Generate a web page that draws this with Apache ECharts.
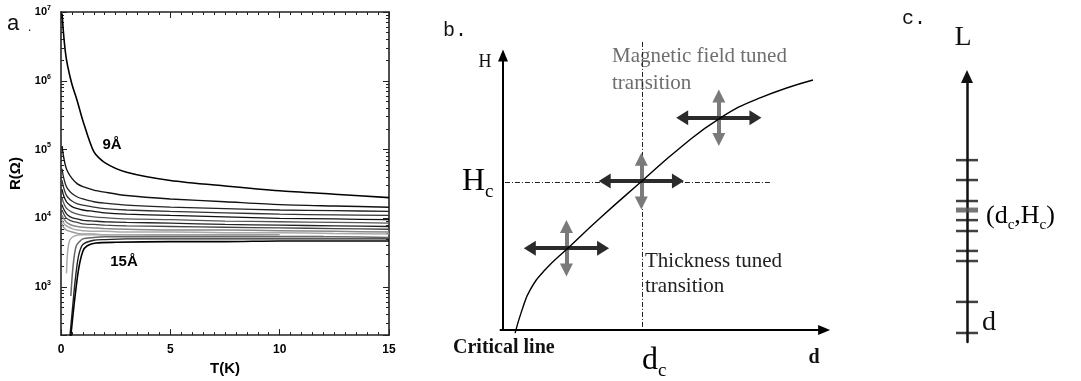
<!DOCTYPE html>
<html><head><meta charset="utf-8">
<script src="https://cdn.jsdelivr.net/npm/echarts@6/dist/echarts.min.js"></script>
<style>html,body{margin:0;padding:0;background:#fff}#c{width:1081px;height:381px}</style>
</head><body><div id="c"></div>
<script>
// ---------- Panel a: R(T) curves (T in K, R in ohm) ----------
const T_GRID = [0.05, 0.1, 0.2, 0.3, 0.5, 0.75, 1, 1.5, 2, 3, 5, 7.5, 10, 12.5, 15];
const R_9A  = [9500000, 5600000, 2630000, 1660000, 891000, 501000, 263000, 93300, 64600, 46800, 35500, 29500, 25100, 22400, 20000];
const R_C2  = [112000, 85100, 58900, 47900, 38000, 31600, 28800, 25700, 24000, 21400, 19100, 17400, 15800, 15100, 14500];
const R_C3  = [52500, 41700, 31600, 26900, 22900, 20400, 19100, 17400, 16600, 15500, 14500, 13800, 13200, 12900, 12600];
const R_C4  = [35500, 29500, 23400, 20400, 17800, 16200, 15500, 14500, 13800, 13200, 12600, 12000, 11500, 11200, 11000];
const R_C5  = [26300, 22400, 18600, 16600, 14800, 13800, 13200, 12600, 12000, 11500, 11000, 10500, 10000, 9770, 9550];
const R_C6  = [20000, 17400, 14800, 13500, 12300, 11500, 11000, 10500, 10200, 9770, 9550, 9120, 8910, 8710, 8510];
const R_C7  = [15800, 14100, 12300, 11200, 10200, 9770, 9330, 9120, 8910, 8710, 8510, 8130, 7940, 7760, 7590];
const R_C8  = [13200, 12000, 10500, 9770, 9120, 8710, 8320, 8130, 7940, 7760, 7590, 7410, 7240, 7080, 6920];
const R_C9  = [11200, 10200, 9120, 8510, 7940, 7590, 7410, 7240, 7080, 6920, 6760, 6760, 6610, 6460, 6310];
const R_C10 = [9550, 8710, 7940, 7590, 7080, 6760, 6610, 6460, 6460, 6310, 6310, 6170, 6170, 6030, 5890];
const R_C11 = [8320, 7590, 6920, 6610, 6310, 6030, 5890, 5890, 5750, 5750, 5750, 5750, 5750];

const T_L1 = [0.25, 0.3, 0.4, 0.6, 1, 1.5, 2, 3, 5, 7.5, 10, 12];
const R_L1 = [1580, 3160, 4790, 5500, 5750, 5750, 5750, 5750, 5620, 5620, 5500, 5500];
const T_L2 = [0.45, 0.55, 0.7, 1, 1.5, 2, 3, 5, 7.5, 10, 12.5, 15];
const R_L2 = [741, 2000, 3980, 5010, 5250, 5370, 5370, 5370, 5370, 5370, 5370, 5250];
const T_L3 = [0.38, 0.5, 0.65, 0.8, 1, 1.5, 2, 3, 5, 7.5, 10, 12.5, 15];
const R_L3 = [158, 398, 1260, 2820, 4170, 4790, 4900, 5010, 5010, 5010, 5010, 5010, 5010];
const T_15A = [0.42, 0.6, 0.8, 1.0, 1.2, 1.6, 2.5, 5, 7.5, 10, 12.5, 15];
const R_15A = [158, 562, 1780, 3310, 3980, 4370, 4470, 4570, 4570, 4680, 4680, 4680];

const X_TICKS_A = [0, 5, 10, 15];

// ---------- Panel b: schematic phase diagram (arbitrary units) ----------
const D_CRIT = [3.7, 5.8, 8.3, 12.8, 19.9, 29.7, 42.5, 54.1, 66.4, 78.6, 94.8];
const H_CRIT = [-1.1, 7.1, 14.3, 21.4, 29.3, 40.0, 53.2, 65.0, 75.7, 82.9, 89.3];
const D_C = 42.5;
const H_C = 52.9;
const CROSS_D = [66.0, 42.3, 19.4];
const CROSS_H = [75.8, 53.2, 29.2];

// ---------- Panel c: length-scale ticks ----------
const C_TICKS = [3.4, 15.1, 30.5, 34.3, 41.8, 45.9, 53.1, 61.0, 68.5];
const C_CRITICAL = [49.7];

const pair = (xs, ys) => ys.map((y, i) => [xs[i], y]);

const curvesA = [
  {x: T_GRID, y: R_9A,  c: '#000', w: 1.6},
  {x: T_GRID, y: R_C2,  c: '#111', w: 1.4},
  {x: T_GRID, y: R_C3,  c: '#222', w: 1.3},
  {x: T_GRID, y: R_C4,  c: '#333', w: 1.3},
  {x: T_GRID, y: R_C5,  c: '#111', w: 1.3},
  {x: T_GRID, y: R_C6,  c: '#555', w: 1.3},
  {x: T_GRID, y: R_C7,  c: '#222', w: 1.3},
  {x: T_GRID, y: R_C8,  c: '#444', w: 1.3},
  {x: T_GRID, y: R_C9,  c: '#888', w: 1.5},
  {x: T_GRID, y: R_C10, c: '#aaa', w: 1.5},
  {x: T_GRID, y: R_C11, c: '#999', w: 1.5},
  {x: T_L1,   y: R_L1,  c: '#aaa', w: 1.5},
  {x: T_L2,   y: R_L2,  c: '#666', w: 1.5},
  {x: T_L3,   y: R_L3,  c: '#222', w: 1.4},
  {x: T_15A,  y: R_15A, c: '#000', w: 1.6}
];

const SANS = 'Liberation Sans';
const SERIF = 'Liberation Serif';

const series = [];
curvesA.forEach(cv => series.push({
  type: 'line', xAxisIndex: 0, yAxisIndex: 0, data: pair(cv.x, cv.y),
  showSymbol: false, symbol: 'none', smooth: 0.25, silent: true,
  lineStyle: {color: cv.c, width: cv.w}
}));

const mlBase = {silent: true, label: {show: false}, emphasis: {disabled: true}, animation: false};
// panel b axes
series.push({type: 'line', xAxisIndex: 2, yAxisIndex: 2, data: [], silent: true,
  markLine: Object.assign({}, mlBase, {symbol: ['none', 'triangle'], symbolSize: [10, 12],
    lineStyle: {color: '#000', width: 2, type: 'solid'},
    data: [[{coord: [0, 0]}, {coord: [0, 98]}], [{coord: [-1, 0]}, {coord: [98.2, 0]}]]})});
// dashed guides
series.push({type: 'line', xAxisIndex: 2, yAxisIndex: 2, data: [], silent: true,
  markLine: Object.assign({}, mlBase, {symbol: ['none', 'none'],
    lineStyle: {color: '#222', width: 1, type: [5, 2, 1, 2]},
    data: [[{coord: [0.6, H_C]}, {coord: [82.3, H_C]}], [{coord: [D_C, 1.1]}, {coord: [D_C, 102.9]}]]})});
// grey vertical arrows
series.push({type: 'line', xAxisIndex: 2, yAxisIndex: 2, data: [], silent: true,
  markLine: Object.assign({}, mlBase, {symbol: ['triangle', 'triangle'], symbolSize: [13, 13],
    lineStyle: {color: '#7a7a7a', width: 4, type: 'solid'},
    data: CROSS_D.map((d, i) => [{coord: [d, CROSS_H[i] - 7.8]}, {coord: [d, CROSS_H[i] + 7.8]}])})});
// dark horizontal arrows
series.push({type: 'line', xAxisIndex: 2, yAxisIndex: 2, data: [], silent: true,
  markLine: Object.assign({}, mlBase, {symbol: ['triangle', 'triangle'], symbolSize: [15, 12],
    lineStyle: {color: '#2b2b2b', width: 4, type: 'solid'},
    data: CROSS_D.map((d, i) => [{coord: [d - 11.2, CROSS_H[i]]}, {coord: [d + 11.2, CROSS_H[i]]}])})});
// critical line
series.push({type: 'line', xAxisIndex: 2, yAxisIndex: 2, data: pair(D_CRIT, H_CRIT),
  showSymbol: false, symbol: 'none', smooth: 0.5, silent: true, z: 5,
  lineStyle: {color: '#000', width: 1.4}});

// panel c ticks
series.push({type: 'scatter', xAxisIndex: 3, yAxisIndex: 3, silent: true,
  data: C_TICKS.map(v => [0, v]), symbol: 'rect', symbolSize: [22, 2.5],
  itemStyle: {color: '#111'}});
series.push({type: 'scatter', xAxisIndex: 3, yAxisIndex: 3, silent: true,
  data: C_CRITICAL.map(v => [0, v]), symbol: 'rect', symbolSize: [22, 5],
  itemStyle: {color: '#555'}});

const frame = {show: true, onZero: false, lineStyle: {color: '#222', width: 1.6}};
const tickIn = {show: true, inside: true, length: 6, lineStyle: {color: '#222', width: 1}};
const minorIn = {show: true, splitNumber: 10, length: 3, lineStyle: {color: '#222', width: 1}};
const minorLog = {show: true, splitNumber: 9, length: 3, lineStyle: {color: '#222', width: 1}};

const yFmt = v => {
  const l = Math.log10(v), e = Math.round(l);
  if (Math.abs(l - e) > 1e-6) return '';
  return '{b|10}{e|' + e + '}';
};

const option = {
  animation: false,
  backgroundColor: '#fff',
  grid: [
    {left: 61, top: 12, width: 328, height: 325},
    {left: 486.65, top: 22, width: 359.7, height: 322},
    {left: 947, top: 76.5, width: 40, height: 265.5}
  ],
  xAxis: [
    {gridIndex: 0, type: 'value', min: 0, max: 15, interval: 5, position: 'bottom',
      axisLine: frame, axisTick: tickIn, minorTick: minorIn,
      splitLine: {show: false}, minorSplitLine: {show: false},
      axisLabel: {margin: 9, color: '#000', fontFamily: SANS, fontWeight: 'bold', fontSize: 12,
        formatter: v => X_TICKS_A.includes(v) ? String(v) : ''},
      name: 'T(K)', nameLocation: 'middle', nameGap: 21,
      nameTextStyle: {color: '#000', fontFamily: SANS, fontWeight: 'bold', fontSize: 15}},
    {gridIndex: 0, type: 'value', min: 0, max: 15, interval: 5, position: 'top',
      axisLine: frame, axisTick: tickIn, minorTick: minorIn,
      splitLine: {show: false}, axisLabel: {show: false}},
    {gridIndex: 1, type: 'value', min: -5, max: 105, show: false},
    {gridIndex: 2, type: 'value', min: -1, max: 1, show: false}
  ],
  yAxis: [
    {gridIndex: 0, type: 'log', logBase: 10, min: 200, max: 10000000, position: 'left',
      axisLine: frame, axisTick: tickIn, minorTick: minorLog, splitLine: {show: false}, minorSplitLine: {show: false},
      axisLabel: {margin: 10, formatter: yFmt,
        rich: {
          b: {fontSize: 11, fontWeight: 'bold', fontFamily: SANS, color: '#000'},
          e: {fontSize: 7, fontWeight: 'bold', fontFamily: SANS, color: '#000', padding: [0, 0, 8, 0]}
        }},
      name: 'R(Ω)', nameLocation: 'middle', nameGap: 38, nameRotate: 90,
      nameTextStyle: {color: '#000', fontFamily: SANS, fontWeight: 'bold', fontSize: 15}},
    {gridIndex: 0, type: 'log', logBase: 10, min: 200, max: 10000000, position: 'right',
      axisLine: frame, axisTick: tickIn, minorTick: minorLog, splitLine: {show: false}, minorSplitLine: {show: false},
      axisLabel: {show: false}},
    {gridIndex: 1, type: 'value', min: -5, max: 110, show: false},
    {gridIndex: 2, type: 'value', min: 0, max: 100,
      axisLine: {show: true, onZero: true, symbol: ['none', 'triangle'], symbolSize: [12, 13],
        lineStyle: {color: '#111', width: 2.5}},
      axisTick: {show: false}, axisLabel: {show: false}, splitLine: {show: false}}
  ],
  graphic: [
    // panel a
    {type: 'text', x: 7, y: 24, style: {text: 'a', font: '22px "Liberation Sans"', fill: '#111', verticalAlign: 'middle'}},
    {type: 'text', x: 28, y: 28, style: {text: '.', font: '12px "Liberation Sans"', fill: '#111', verticalAlign: 'middle'}},
    {type: 'text', x: 112, y: 145, style: {text: '9Å', font: 'bold 15px "Liberation Sans"', fill: '#000', align: 'center', verticalAlign: 'middle'}},
    {type: 'text', x: 124, y: 262, style: {text: '15Å', font: 'bold 15px "Liberation Sans"', fill: '#000', align: 'center', verticalAlign: 'middle'}},
    // panel b
    {type: 'text', x: 443, y: 31, style: {text: 'b.', font: '20px "Liberation Mono"', fill: '#111', verticalAlign: 'middle'}},
    {type: 'text', x: 485, y: 62, style: {text: 'H', font: '18px "Liberation Serif"', fill: '#111', align: 'center', verticalAlign: 'middle'}},
    {type: 'text', x: 462, y: 182, style: {text: '{n|H}{s|c}', verticalAlign: 'middle',
      rich: {n: {fontSize: 32, fontFamily: SERIF, color: '#111'},
             s: {fontSize: 19, fontFamily: SERIF, color: '#111', padding: [20, 0, 0, 0]}}}},
    {type: 'text', x: 612, y: 56, style: {text: 'Magnetic field tuned', font: '21px "Liberation Serif"', fill: '#6e6e6e', verticalAlign: 'middle'}},
    {type: 'text', x: 612, y: 83, style: {text: 'transition', font: '21px "Liberation Serif"', fill: '#6e6e6e', verticalAlign: 'middle'}},
    {type: 'text', x: 645, y: 261, style: {text: 'Thickness tuned', font: '21px "Liberation Serif"', fill: '#222', verticalAlign: 'middle'}},
    {type: 'text', x: 645, y: 286, style: {text: 'transition', font: '21px "Liberation Serif"', fill: '#222', verticalAlign: 'middle'}},
    {type: 'text', x: 453, y: 348, style: {text: 'Critical line', font: 'bold 20px "Liberation Serif"', fill: '#111', verticalAlign: 'middle'}},
    {type: 'text', x: 642, y: 361, style: {text: '{n|d}{s|c}', verticalAlign: 'middle',
      rich: {n: {fontSize: 32, fontFamily: SERIF, color: '#111'},
             s: {fontSize: 19, fontFamily: SERIF, color: '#111', padding: [20, 0, 0, 0]}}}},
    {type: 'text', x: 814, y: 358, style: {text: 'd', font: 'bold 20px "Liberation Serif"', fill: '#111', align: 'center', verticalAlign: 'middle'}},
    // panel c
    {type: 'text', x: 902, y: 19, style: {text: 'c.', font: '20px "Liberation Mono"', fill: '#111', verticalAlign: 'middle'}},
    {type: 'text', x: 963, y: 38, style: {text: 'L', font: '28px "Liberation Serif"', fill: '#111', align: 'center', verticalAlign: 'middle'}},
    {type: 'text', x: 986, y: 216, style: {text: '{n|(d}{s|c}{n|,H}{s|c}{n|)}', verticalAlign: 'middle',
      rich: {n: {fontSize: 26, fontFamily: SERIF, color: '#222'},
             s: {fontSize: 15, fontFamily: SERIF, color: '#222', padding: [18, 0, 0, 0]}}}},
    {type: 'text', x: 982, y: 323, style: {text: 'd', font: '28px "Liberation Serif"', fill: '#111', verticalAlign: 'middle'}}
  ],
  series: series
};

const chart = echarts.init(document.getElementById('c'), null, {renderer: 'canvas'});
chart.setOption(option);
</script>
</body></html>
